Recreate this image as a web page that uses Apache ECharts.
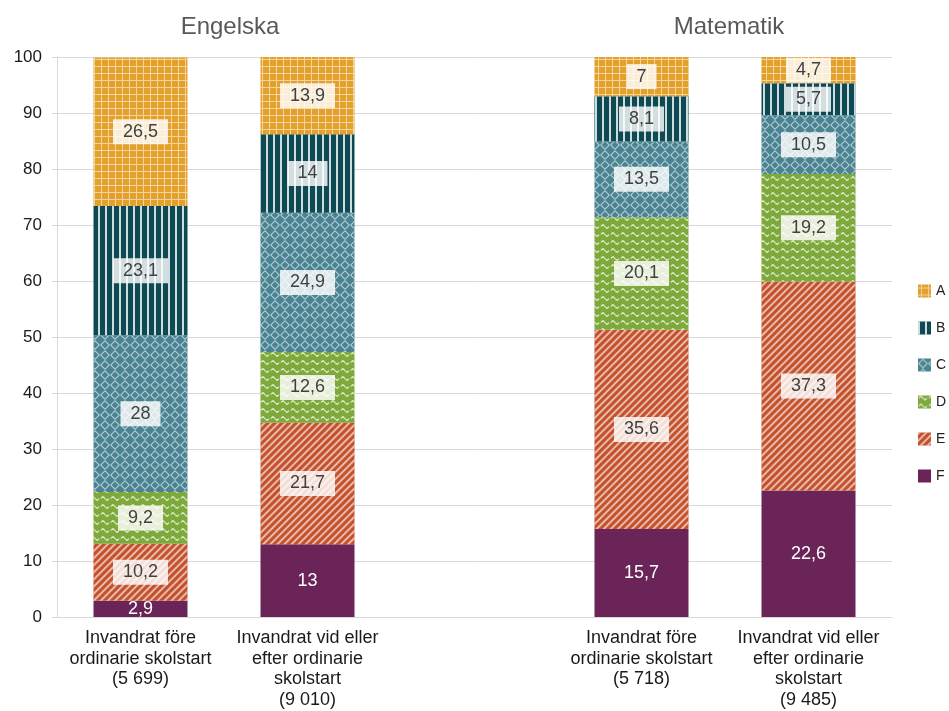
<!DOCTYPE html>
<html>
<head>
<meta charset="utf-8">
<script src="https://cdn.jsdelivr.net/npm/echarts@6/dist/echarts.min.js"></script>
<style>
  html, body { margin: 0; padding: 0; background: #fff; }
  #chart { width: 949px; height: 711px; }
</style>
</head>
<body>
<div id="chart"></div>
<script>
// kategorier (tom kategori i mitten skapar mellanrummet)
const categories = [
  'Invandrat före\nordinarie skolstart\n(5 699)',
  'Invandrat vid eller\nefter ordinarie\nskolstart\n(9 010)',
  '',
  'Invandrat före\nordinarie skolstart\n(5 718)',
  'Invandrat vid eller\nefter ordinarie\nskolstart\n(9 485)'
]
const titles = ['Engelska', 'Matematik']

// andel per betyg, nedifrån och upp
const gradeF = [2.9, 13, '-', 15.7, 22.6]
const gradeE = [10.2, 21.7, '-', 35.6, 37.3]
const gradeD = [9.2, 12.6, '-', 20.1, 19.2]
const gradeC = [28, 24.9, '-', 13.5, 10.5]
const gradeB = [23.1, 14, '-', 8.1, 5.7]
const gradeA = [26.5, 13.9, '-', 7, 4.7]

const chart = echarts.init(document.getElementById('chart'))

const FONT = 'Liberation Sans, Arial, sans-serif'
const fmt = p => String(p.value).replace('.', ',')

// mönster för varje serie
const decals = {
  A: { symbol: 'path://M3,0 L4,0 L4,3 L7,3 L7,4 L4,4 L4,7 L3,7 L3,4 L0,4 L0,3 L3,3 Z', symbolSize: 1, color: 'rgba(255,255,255,0.55)', dashArrayX: [7, 0], dashArrayY: [7, 0] },
  B: { symbol: 'rect', symbolSize: 1, color: 'rgba(255,255,255,0.8)', dashArrayX: [1.5, 5], dashArrayY: [1, 0] },
  C: { symbol: 'path://M5,0 L10,5 L5,10 L0,5 Z M5,1.5 L1.5,5 L5,8.5 L8.5,5 Z', symbolSize: 1, color: 'rgba(255,255,255,0.6)', dashArrayX: [10, 0], dashArrayY: [10, 0] },
  D: { symbol: 'path://M0,4 Q2.5,0 5,4 T10,4 L10,6 Q7.5,10 5,6 T0,6 Z', symbolSize: 1, color: 'rgba(255,255,255,0.75)', dashArrayX: [10, 0], dashArrayY: [5, 3] },
  E: { symbol: 'rect', symbolSize: 1, color: 'rgba(255,255,255,0.6)', dashArrayX: [1, 0], dashArrayY: [2, 3], rotation: -Math.PI / 4 }
}

function makeSeries (name, data, color, decal, light) {
  return {
    name: name,
    type: 'bar',
    stack: 'total',
    barWidth: 94,
    data: data,
    itemStyle: {
      color: color,
      decal: decal || null
    },
    label: {
      show: true,
      position: 'inside',
      formatter: fmt,
      fontSize: 18,
      fontFamily: FONT,
      color: light ? '#ffffff' : '#404040',
      backgroundColor: light ? 'transparent' : 'rgba(255,255,255,0.82)',
      padding: light ? 0 : [4, 10, 3, 10]
    }
  }
}

chart.setOption({
  animation: false,
  title: [
    { text: titles[0], left: 225, top: 10, textAlign: 'center',
      textStyle: { fontSize: 24, fontWeight: 'normal', color: '#595959', fontFamily: FONT } },
    { text: titles[1], left: 724, top: 10, textAlign: 'center',
      textStyle: { fontSize: 24, fontWeight: 'normal', color: '#595959', fontFamily: FONT } }
  ],
  legend: {
    orient: 'vertical',
    left: 918,
    top: 284,
    padding: 0,
    itemWidth: 13,
    itemHeight: 13,
    itemGap: 23,
    icon: 'rect',
    data: ['A', 'B', 'C', 'D', 'E', 'F'],
    textStyle: { fontSize: 14, color: '#222', padding: [3, 0, 0, 0], fontFamily: FONT }
  },
  grid: { left: 57, right: 57, top: 57, bottom: 94, containLabel: false },
  xAxis: {
    type: 'category',
    data: categories,
    axisLine: { lineStyle: { color: '#d9d9d9' } },
    axisTick: { show: false },
    axisLabel: {
      interval: 0,
      fontSize: 18,
      lineHeight: 20.5,
      color: '#1a1a1a',
      margin: 11,
      fontFamily: FONT
    }
  },
  yAxis: {
    type: 'value',
    min: 0,
    max: 100,
    interval: 10,
    axisLine: { show: true, lineStyle: { color: '#d9d9d9' } },
    axisTick: { show: true, length: 5, lineStyle: { color: '#d9d9d9' } },
    splitLine: { lineStyle: { color: '#d9d9d9' } },
    axisLabel: { fontSize: 17, color: '#1a1a1a', margin: 15, fontFamily: FONT }
  },
  series: [
    makeSeries('F', gradeF, '#6a2458', null, true),
    makeSeries('E', gradeE, '#c4512b', decals.E),
    makeSeries('D', gradeD, '#7ea93b', decals.D),
    makeSeries('C', gradeC, '#4a8492', decals.C),
    makeSeries('B', gradeB, '#0d4a54', decals.B),
    makeSeries('A', gradeA, '#e3a02b', decals.A)
  ]
})

window.addEventListener('resize', function () {
  chart.resize()
})
</script>
</body>
</html>
